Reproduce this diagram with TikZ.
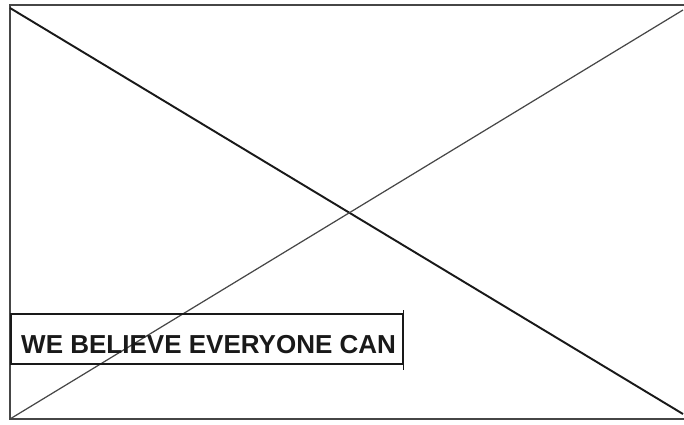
\documentclass[tikz,border=0pt]{standalone}
\usepackage{fontspec}
\setsansfont{Liberation Sans}
\usepackage{xcolor}
\definecolor{pencil}{RGB}{70,70,70}
\definecolor{ink}{RGB}{25,25,25}
\usepackage{tikz}
\usetikzlibrary{positioning, calc}

\begin{document}
\begin{tikzpicture}
  \useasboundingbox (0,0) rectangle (13.68,8.48);
  % frame corners
  \coordinate (tl) at (0.2,8.38);
  \coordinate (bl) at (0.2,0.10);
  \coordinate (tr) at (13.68,8.38);
  \coordinate (br) at (13.68,0.10);
  \draw[pencil, line width=1.1pt] (tr) -- (tl) -- (bl) -- (br);
  % image placeholder cross
  \draw[ink, line width=1.1pt] ($(tl)+(0,-0.06)$) -- ($(br)+(-0.02,0.1)$);
  \draw[ink!80, line width=0.7pt] (bl) -- ($(tr)+(-0.02,-0.1)$);
  % headline banner
  \node[draw=ink, line width=0.9pt, anchor=south west, minimum width=7.84cm,
    minimum height=1.0cm, inner sep=0pt] (banner) at (0.2,1.18) {};
  \node[font=\sffamily\bfseries\fontsize{14.8}{16}\selectfont, ink, anchor=west]
    (headline) at ($(banner.west)+(0.1,-0.1)$) {WE BELIEVE EVERYONE CAN};
  \draw[ink, line width=0.9pt] ($(banner.north east)+(0,0.06)$) -- ($(banner.south east)+(0,-0.1)$);
\end{tikzpicture}
\end{document}
